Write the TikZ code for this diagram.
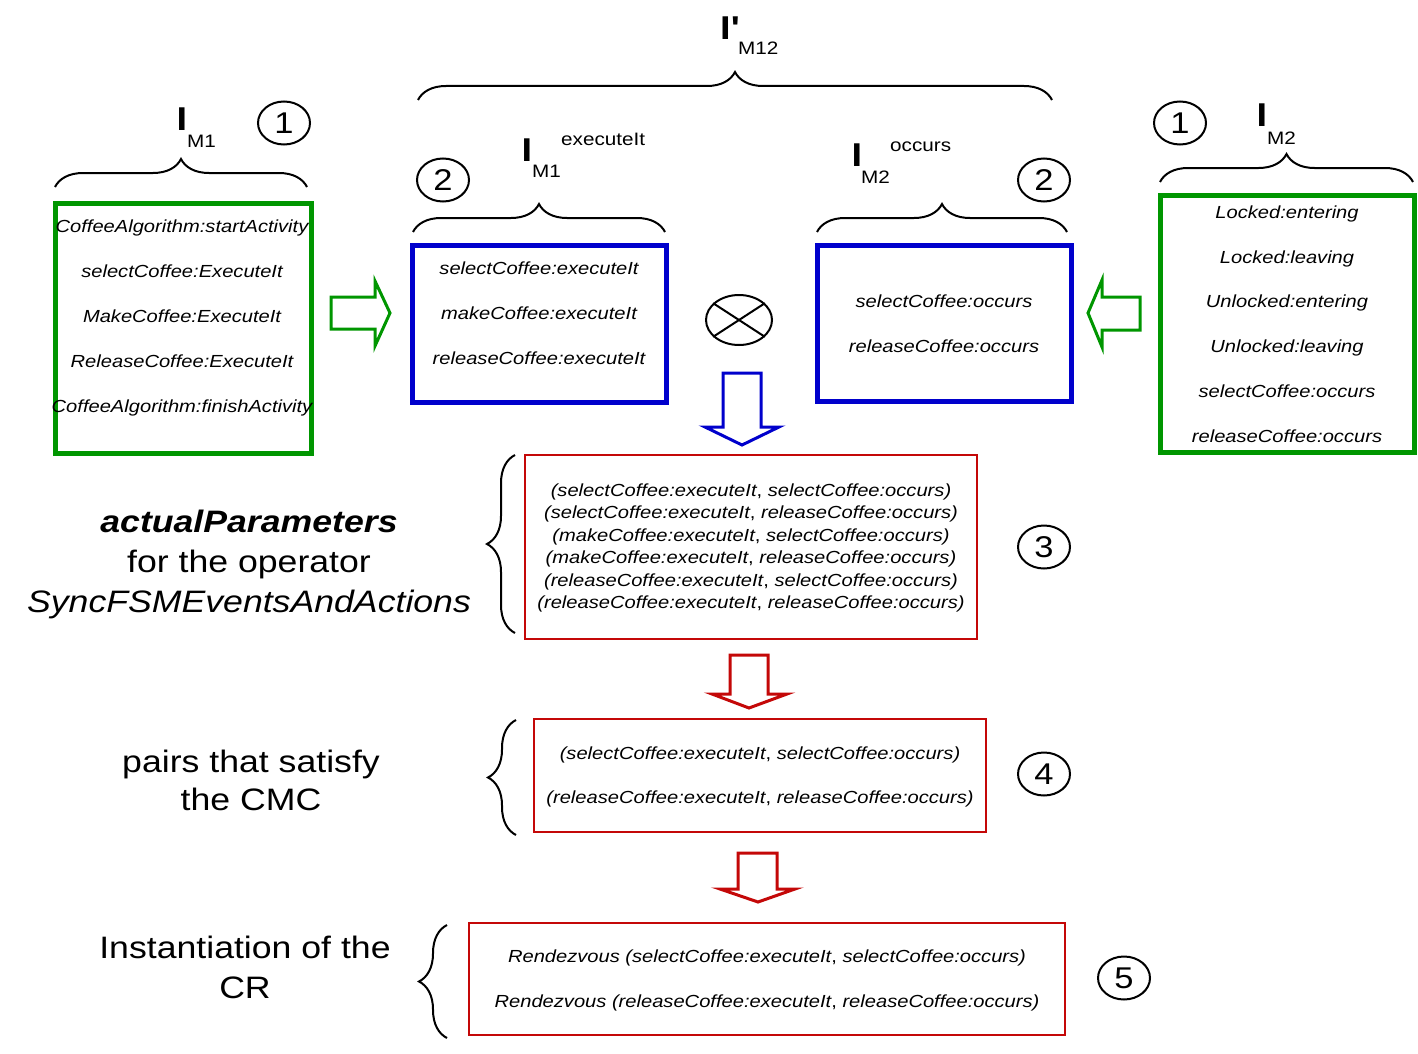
\documentclass[tikz,border=0pt]{standalone}
\usepackage{fontspec}
\setmainfont{Liberation Sans}[FakeStretch=1.15]
\usetikzlibrary{decorations.pathreplacing,shapes.geometric}
\definecolor{dgreen}{RGB}{0,150,0}
\definecolor{dblue}{RGB}{0,0,204}
\definecolor{dred}{RGB}{196,8,8}
\newcommand{\pairtxt}[2]{(#1\textup{, }#2)}
\begin{document}
\begin{tikzpicture}[x=1pt,y=-1pt,
  gbox/.style={draw=dgreen,line width=5pt,inner sep=0pt},
  bbox/.style={draw=dblue,line width=5pt,inner sep=0pt},
  rbox/.style={draw=dred,line width=2.5pt,inner sep=0pt},
  boxtext/.style={align=center,inner sep=0pt,font=\fontsize{17.5}{44.8}\selectfont\itshape},
  pairtext/.style={align=center,inner sep=0pt,font=\fontsize{17.5}{22.4}\selectfont\itshape},
  bigtext/.style={align=center,inner sep=0pt,font=\fontsize{31}{40}\selectfont},
  circ/.style={draw,ellipse,line width=2pt,minimum width=52pt,minimum height=43pt,inner sep=0pt,font=\fontsize{30}{30}\selectfont},
  bigI/.style={inner sep=0pt,font=\fontsize{33}{33}\selectfont\bfseries},
  subtext/.style={inner sep=0pt,anchor=base west,font=\fontsize{18}{18}\selectfont},
  brc/.style={decorate,decoration={brace,amplitude=28pt},line width=2pt},
  garrow/.style={draw=dgreen,line width=3pt,line join=miter},
  barrow/.style={draw=dblue,line width=3pt,line join=miter},
  rarrow/.style={draw=dred,line width=3pt,line join=miter}]
\useasboundingbox (0,0) rectangle (1418,1054);
\fill[white] (0,0) rectangle (1418,1054);

% boxes
\node[gbox,minimum width=256pt,minimum height=250pt] (m1) at (183,328) {};
\node[bbox,minimum width=254pt,minimum height=157pt] (m1e) at (539,323.5) {};
\node[bbox,minimum width=254pt,minimum height=156pt] (m2o) at (944,323) {};
\node[gbox,minimum width=254pt,minimum height=257pt] (m2) at (1287,323.5) {};
\node[rbox,minimum width=452pt,minimum height=184pt] (b3) at (751,547) {};
\node[rbox,minimum width=452pt,minimum height=113pt] (b4) at (760,775.5) {};
\node[rbox,minimum width=596pt,minimum height=112pt] (b5) at (767,979) {};

% box texts
\node[boxtext] (t1) at (182,318) {CoffeeAlgorithm:startActivity\\selectCoffee:ExecuteIt\\MakeCoffee:ExecuteIt\\ReleaseCoffee:ExecuteIt\\CoffeeAlgorithm:finishActivity};
\node[boxtext] (t2) at (539,313.5) {selectCoffee:executeIt\\makeCoffee:executeIt\\releaseCoffee:executeIt};
\node[boxtext] (t3) at (944,323.5) {selectCoffee:occurs\\releaseCoffee:occurs};
\node[boxtext] (t4) at (1287,324) {Locked:entering\\Locked:leaving\\Unlocked:entering\\Unlocked:leaving\\selectCoffee:occurs\\releaseCoffee:occurs};
\node[pairtext] (t5) at (751,548) {\pairtxt{selectCoffee:executeIt}{selectCoffee:occurs}\\
\pairtxt{selectCoffee:executeIt}{releaseCoffee:occurs}\\
\pairtxt{makeCoffee:executeIt}{selectCoffee:occurs}\\
\pairtxt{makeCoffee:executeIt}{releaseCoffee:occurs}\\
\pairtxt{releaseCoffee:executeIt}{selectCoffee:occurs}\\
\pairtxt{releaseCoffee:executeIt}{releaseCoffee:occurs}};
\node[boxtext] (t6) at (760,777) {\pairtxt{selectCoffee:executeIt}{selectCoffee:occurs}\\
\pairtxt{releaseCoffee:executeIt}{releaseCoffee:occurs}};
\node[boxtext] (t7) at (767,980.5) {Rendezvous \pairtxt{selectCoffee:executeIt}{selectCoffee:occurs}\\
Rendezvous \pairtxt{releaseCoffee:executeIt}{releaseCoffee:occurs}};

% left texts
\node[bigtext] (l1) at (249,564) {\textbf{\textit{actualParameters}}\\for the operator\\\textit{SyncFSMEventsAndActions}};
\node[bigtext,font=\fontsize{31}{38}\selectfont] (l2) at (251,780) {pairs that satisfy\\the CMC};
\node[bigtext] (l3) at (245,967) {Instantiation of the\\CR};

% circled numbers
\node[circ] (c1a) at (284,123) {1};
\node[circ] (c2a) at (443,180) {2};
\node[circ] (c2b) at (1044,180) {2};
\node[circ] (c1b) at (1180,123) {1};
\node[circ] (c3) at (1044,547) {3};
\node[circ] (c4) at (1044,774) {4};
\node[circ] (c5) at (1124,978) {5};

% otimes
\node[draw,ellipse,line width=2pt,minimum width=66pt,minimum height=50pt,inner sep=0pt] (ot) at (739,320) {};
\draw[line width=2pt] (ot.33) -- (ot.213) (ot.147) -- (ot.327);

% labels
\node[bigI] (IM1) at (182,119) {I};
\node[subtext] (IM1s) at (187,147) {M1};
\node[bigI] (IM1e) at (527,150) {I};
\node[subtext] (IM1es) at (532,177) {M1};
\node[subtext] (IM1ep) at (561,146) {executeIt};
\node[bigI] (IM2o) at (857,155) {I};
\node[subtext] (IM2os) at (861,183) {M2};
\node[subtext] (IM2op) at (890,151) {occurs};
\node[bigI,anchor=base west] (IM12) at (720,40) {I\textquotesingle};
\node[subtext] (IM12s) at (738,55) {M12};
\node[bigI] (IM2) at (1262,115) {I};
\node[subtext] (IM2s) at (1267,144) {M2};

% braces
\draw[brc] (418,100) -- (1052,100);
\draw[brc] (55,187) -- (307,187);
\draw[brc] (413,232) -- (665,232);
\draw[brc] (817,232) -- (1067,232);
\draw[brc] (1160,182) -- (1413,182);
\draw[brc] (515,633) -- (515,455);
\draw[brc] (516,835) -- (516,720);
\draw[brc] (447,1038) -- (447,925);

% block arrows
\draw[garrow] (331,297) -- (375,297) -- (375,281) -- (390,313) -- (375,346) -- (375,329) -- (331,329) -- cycle;
\draw[garrow] (1140,297) -- (1102,297) -- (1102,280) -- (1088,313) -- (1102,347) -- (1102,330) -- (1140,330) -- cycle;
\draw[barrow] (723,373) -- (761,373) -- (761,427) -- (779,427) -- (742,445) -- (705,427) -- (723,427) -- cycle;
\draw[rarrow] (730,655) -- (768,655) -- (768,694) -- (787,694) -- (749,708) -- (712,694) -- (730,694) -- cycle;
\draw[rarrow] (738,853) -- (777,853) -- (777,889) -- (795,889) -- (758,902) -- (720,889) -- (738,889) -- cycle;
\end{tikzpicture}
\end{document}
